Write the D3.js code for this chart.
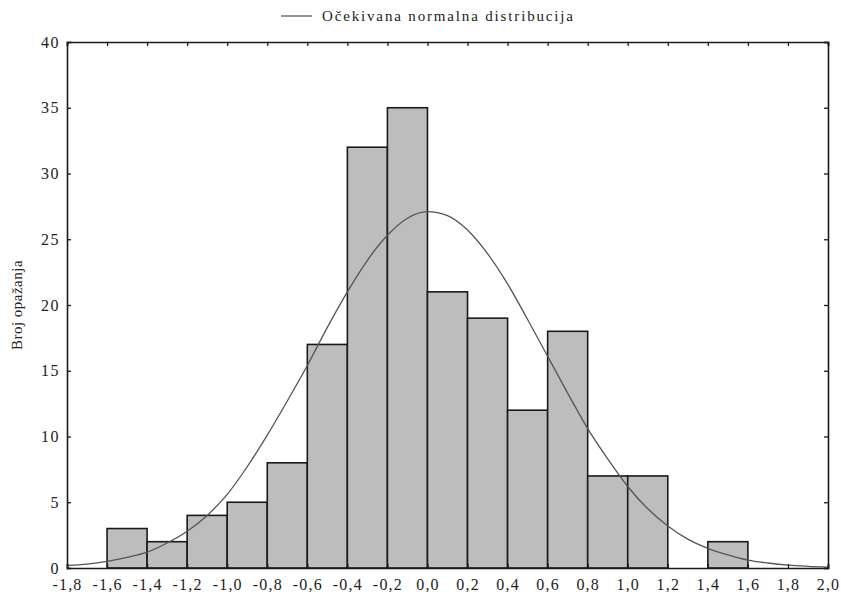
<!DOCTYPE html>
<html><head><meta charset="utf-8">
<script src="https://cdn.jsdelivr.net/npm/d3@7"></script>
<style>body{margin:0;background:#fff}svg{display:block}text{font-family:"Liberation Serif","DejaVu Serif",serif;fill:#222}</style>
</head><body>
<script>
// Histogram bins (lower edge, upper edge) and counts
const binStarts = [-1.6,-1.4,-1.2,-1.0,-0.8,-0.6,-0.4,-0.2,0.0,0.2,0.4,0.6,0.8,1.0,1.2,1.4];
const binWidth = 0.2;
const counts = [3,2,4,5,8,17,32,35,21,19,12,18,7,7,0,2];
// Expected normal curve
const curveX = [-1.8,-1.7,-1.6,-1.5,-1.4,-1.3,-1.2,-1.1,-1.0,-0.9,-0.8,-0.7,-0.6,-0.5,-0.4,-0.3,-0.2,-0.1,0.0,0.1,0.2,0.3,0.4,0.5,0.6,0.7,0.8,0.9,1.0,1.1,1.2,1.3,1.4,1.5,1.6,1.7,1.8,1.9,2.0];
const curveY = [0.2,0.3,0.5,0.8,1.2,1.9,2.8,4.0,5.6,7.7,10.1,12.7,15.4,18.3,21.0,23.4,25.3,26.6,27.1,26.8,25.7,23.9,21.6,18.9,16.1,13.3,10.6,8.3,6.2,4.5,3.2,2.2,1.5,1.0,0.6,0.38,0.22,0.13,0.07];
const xTicks = [-1.8,-1.6,-1.4,-1.2,-1.0,-0.8,-0.6,-0.4,-0.2,0.0,0.2,0.4,0.6,0.8,1.0,1.2,1.4,1.6,1.8,2.0];
const yTicks = [0,5,10,15,20,25,30,35,40];
const legendLabel = "Očekivana normalna distribucija";
const yTitle = "Broj opažanja";

(function(){
const W = 841, H = 602;
const m = {left:67, right:13, top:42, bottom:34};
const svg = d3.select("body").append("svg").attr("width",W).attr("height",H);
const x = d3.scaleLinear().domain([-1.8,2.0]).range([m.left, W-m.right]);
const y = d3.scaleLinear().domain([0,40]).range([H-m.bottom, m.top]);
const fmt = d => d.toFixed(1).replace(".",",");

// bars
svg.append("g").selectAll("rect").data(counts.map((c,i)=>({x0:binStarts[i],c})).filter(d=>d.c>0))
  .join("rect")
  .attr("x",d=>x(d.x0)).attr("width",d=>x(d.x0+binWidth)-x(d.x0))
  .attr("y",d=>y(d.c)).attr("height",d=>y(0)-y(d.c))
  .attr("fill","#bdbdbd").attr("stroke","#1a1a1a").attr("stroke-width",1.6);

// curve
svg.append("path").datum(curveX.map((v,i)=>[v,curveY[i]]))
  .attr("d", d3.line().x(d=>x(d[0])).y(d=>y(d[1])).curve(d3.curveMonotoneX))
  .attr("fill","none").attr("stroke","#555").attr("stroke-width",1.3);

// axes (ticks inward)
const tl = 4;
const gB = svg.append("g").attr("transform",`translate(0,${y(0)})`)
  .call(d3.axisBottom(x).tickValues(xTicks).tickSize(-tl).tickPadding(11).tickFormat(fmt));
const gT = svg.append("g").attr("transform",`translate(0,${y(40)})`)
  .call(d3.axisTop(x).tickValues(xTicks).tickSize(-tl).tickFormat(""));
const gL = svg.append("g").attr("transform",`translate(${x(-1.8)},0)`)
  .call(d3.axisLeft(y).tickValues(yTicks).tickSize(-tl).tickPadding(7).tickFormat(d3.format("d")));
const gR = svg.append("g").attr("transform",`translate(${x(2.0)},0)`)
  .call(d3.axisRight(y).tickValues(yTicks).tickSize(-tl).tickFormat(""));
[gB,gT,gL,gR].forEach(g=>{
  g.attr("font-family","Liberation Serif");
  g.selectAll(".domain").attr("stroke","#1a1a1a").attr("stroke-width",1.6);
  g.selectAll(".tick line").attr("stroke","#1a1a1a").attr("stroke-width",1.3);
  g.selectAll("text").style("font-size","16px").attr("fill","#222");
});
gB.selectAll("text").style("letter-spacing","1.2px");
gL.selectAll("text").style("letter-spacing","1.5px");

// y title
svg.append("text").attr("transform",`translate(22,${(y(0)+y(40))/2}) rotate(-90)`)
  .attr("text-anchor","middle").style("font-size","15px").style("letter-spacing","0.5px").text(yTitle);

// legend
svg.append("line").attr("x1",281).attr("x2",312).attr("y1",16).attr("y2",16)
  .attr("stroke","#555").attr("stroke-width",1.3);
svg.append("text").attr("x",322).attr("y",21).style("font-size","15px")
  .attr("textLength",251).attr("lengthAdjust","spacing").text(legendLabel);
})();
</script>
</body></html>
